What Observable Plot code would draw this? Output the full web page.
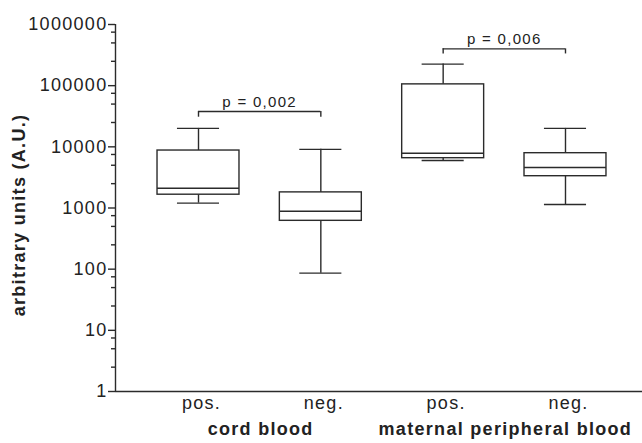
<!DOCTYPE html>
<html>
<head>
<meta charset="utf-8">
<script src="https://cdn.jsdelivr.net/npm/d3@7"></script>
<script src="https://cdn.jsdelivr.net/npm/@observablehq/plot@0.6"></script>
<style>
  html, body { margin: 0; padding: 0; background: #fff; }
  #chart svg { display: block; }
</style>
</head>
<body>
<div id="chart"></div>
<script>
// ---- data ----
const groups = ["cord blood", "cord blood", "maternal peripheral blood", "maternal peripheral blood"];
const statuses = ["pos.", "neg.", "pos.", "neg."];
const whiskerLow  = [1200,  86,  5975, 1140];
const q1          = [1650,  617, 6520, 3310];
const median      = [2100,  887, 7870, 4590];
const q3          = [8700,  1800, 105000, 7870];
const whiskerHigh = [20000, 9100, 225000, 20000];

const yTicks = [1, 10, 100, 1000, 10000, 100000, 1000000];
const yMinorMultipliers = [2.5, 5, 7.5];

const pLabels = ["p = 0,002", "p = 0,006"];
const pFrom = [1, 3];
const pTo = [2, 4];
const pLevel = [37800, 400000];
const pLegEnd = [30500, 330000];

const axisTitle = "arbitrary units (A.U.)";

// ---- derived tables ----
const boxes = statuses.map((s, k) => ({
  i: k + 1, status: s, group: groups[k],
  lo: whiskerLow[k], q1: q1[k], med: median[k], q3: q3[k], hi: whiskerHigh[k]
}));
const groupNames = [...new Set(groups)];
const groupLabels = groupNames.map(g => ({
  name: g,
  x: d3.mean(boxes.filter(b => b.group === g), b => b.i)
}));
const brackets = pLabels.map((t, k) => ({
  label: t, from: pFrom[k], to: pTo[k], level: pLevel[k], leg: pLegEnd[k],
  mid: (pFrom[k] + pTo[k]) / 2
}));
const yMinor = yTicks.slice(0, -1).flatMap(t => yMinorMultipliers.map(m => t * m));

const xDomain = [0.3215, 4.6295];
const boxHalf = 0.335;
const capHalf = 0.172;
const ink = "#2b2b2b";
const sw = 1.4;

const chart = Plot.plot({
  width: 642,
  height: 443,
  marginLeft: 115,
  marginRight: 0,
  marginTop: 24,
  marginBottom: 52,
  style: {
    fontFamily: "'Liberation Sans', Arial, Helvetica, sans-serif",
    fontSize: "18px",
    letterSpacing: "1.3px",
    color: "#222",
    background: "#fff"
  },
  x: { type: "linear", domain: xDomain, axis: null },
  y: { type: "log", domain: [1, 1000000], axis: null },
  marks: [
    // y axis: major ticks
    Plot.axisY({
      ticks: yTicks, tickFormat: d => String(d), tickSize: 7, tickPadding: 1,
      stroke: ink, strokeWidth: sw, fill: "#222", label: null, fontSize: 18
    }),
    // y axis: minor ticks
    Plot.axisY({
      ticks: yMinor, tickFormat: null, text: null, tickSize: 4,
      stroke: ink, strokeWidth: sw, label: null
    }),
    // x tick labels
    Plot.axisX({
      ticks: boxes.map(b => b.i), tickFormat: i => statuses[i - 1],
      tickSize: 0, tickPadding: 5, fill: "#222", label: null, dx: 3, fontSize: 18
    }),
    // axis lines
    Plot.ruleX([xDomain[0]], { stroke: ink, strokeWidth: sw }),
    Plot.ruleY([1], { stroke: ink, strokeWidth: sw }),
    // whiskers
    Plot.ruleX(boxes, { x: "i", y1: "lo", y2: "q1", stroke: ink, strokeWidth: sw }),
    Plot.ruleX(boxes, { x: "i", y1: "q3", y2: "hi", stroke: ink, strokeWidth: sw }),
    Plot.ruleY(boxes, { y: "lo", x1: d => d.i - capHalf, x2: d => d.i + capHalf, stroke: ink, strokeWidth: sw }),
    Plot.ruleY(boxes, { y: "hi", x1: d => d.i - capHalf, x2: d => d.i + capHalf, stroke: ink, strokeWidth: sw }),
    // boxes
    Plot.rect(boxes, {
      x1: d => d.i - boxHalf, x2: d => d.i + boxHalf, y1: "q1", y2: "q3",
      fill: "white", stroke: ink, strokeWidth: sw
    }),
    // medians
    Plot.ruleY(boxes, { y: "med", x1: d => d.i - boxHalf, x2: d => d.i + boxHalf, stroke: ink, strokeWidth: sw }),
    // significance brackets
    Plot.ruleY(brackets, { y: "level", x1: "from", x2: "to", stroke: ink, strokeWidth: sw }),
    Plot.ruleX(brackets, { x: "from", y1: "leg", y2: "level", stroke: ink, strokeWidth: sw }),
    Plot.ruleX(brackets, { x: "to", y1: "leg", y2: "level", stroke: ink, strokeWidth: sw }),
    Plot.text(brackets, {
      x: "mid", y: "level", text: "label", lineAnchor: "bottom", dy: -5,
      fontSize: 15, fill: "#222", style: "letter-spacing:0.6px"
    }),
    // group labels
    Plot.text(groupLabels, {
      x: "x", y: () => 1, text: "name", fontWeight: "bold", lineAnchor: "middle", dy: 38, dx: 1,
      fill: "#222", fontSize: 18
    }),
    // y axis title
    Plot.text([axisTitle], {
      frameAnchor: "left", textAnchor: "middle", rotate: -90, dx: -96, dy: 7, fontWeight: "bold",
      lineAnchor: "middle", fill: "#222", fontSize: 18, style: "letter-spacing:1.5px"
    })
  ]
});

document.getElementById("chart").append(chart);
</script>
</body>
</html>
